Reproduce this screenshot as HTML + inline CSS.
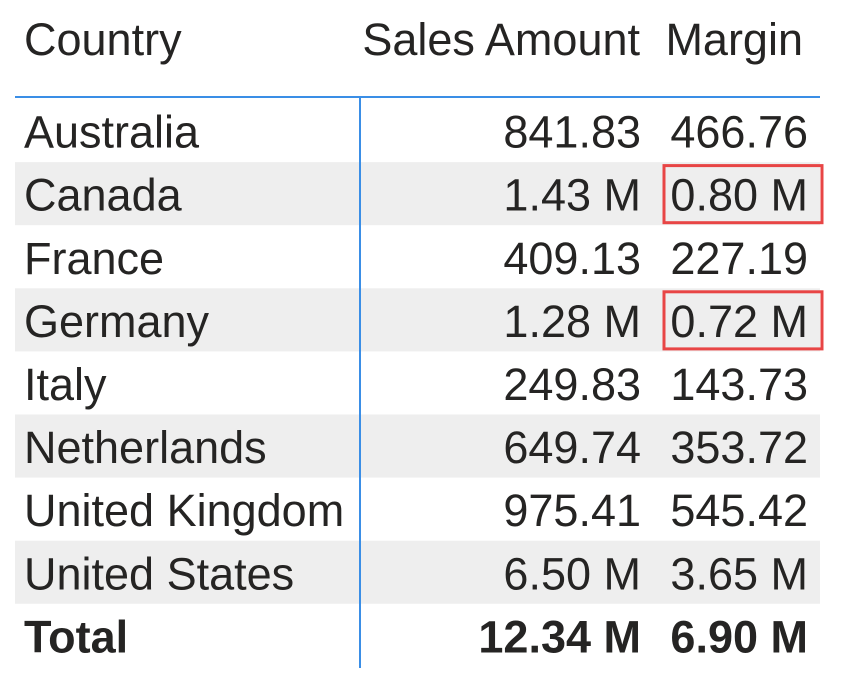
<!DOCTYPE html>
<html><head><meta charset="utf-8"><style>
body{margin:0;background:#fff;}
svg{display:block;font-family:"Liberation Sans",sans-serif;}
</style></head><body>
<svg width="844" height="685" viewBox="0 0 844 685">
<g id="rows"></g>
<line x1="15" y1="97" x2="820" y2="97" stroke="#3a8ee6" stroke-width="2"/>
<line x1="360" y1="97" x2="360" y2="668" stroke="#3a8ee6" stroke-width="2"/>
<text x="24" y="55" font-size="45" fill="#252423">Country</text>
<text x="640" y="55" font-size="45" fill="#252423" text-anchor="end">Sales Amount</text>
<text x="803" y="55" font-size="45" fill="#252423" text-anchor="end">Margin</text>
</svg>
<script>
const countries=["Australia","Canada","France","Germany","Italy","Netherlands","United Kingdom","United States"];
const sales=["841.83","1.43 M","409.13","1.28 M","249.83","649.74","975.41","6.50 M"];
const margins=["466.76","0.80 M","227.19","0.72 M","143.73","353.72","545.42","3.65 M"];
const highlighted=[false,true,false,true,false,false,false,false];
const totalSales="12.34 M";
const totalMargin="6.90 M";
const NS="http://www.w3.org/2000/svg";
const g=document.getElementById('rows');
const top0=99, rh=63.1;
function mk(tag,attrs,parent){const e=document.createElementNS(NS,tag);for(const k in attrs)e.setAttribute(k,attrs[k]);parent.appendChild(e);return e;}
function txt(x,y,s,anchor,bold,parent){const t=mk('text',{x:x,y:y,'font-size':45,fill:'#252423','text-anchor':anchor},parent);if(bold)t.setAttribute('font-weight','bold');t.textContent=s;return t;}
countries.forEach((c,i)=>{
  const y=top0+i*rh;
  const row=mk('g',{},g);
  
  
  if(i%2===1){const b=mk('rect',{x:15,y:y,width:805,height:rh,fill:'#eeeeee'},row);
    
    }
  const by=y+rh/2+17;
  const t1=txt(24,by,c,'start',false,row);
  
  
  const t2=txt(641,by,sales[i],'end',false,row);
  
  
  const t3=txt(808,by,margins[i],'end',false,row);
  
  
  if(highlighted[i]){const r=mk('rect',{x:664,y:y+3.5,width:158,height:rh-6,fill:'none',stroke:'#e84545','stroke-width':3},row);
    
    }
});
const ty=top0+8*rh+rh/2+17;
const tr=mk('g',{},g);


const a=txt(24,ty,'Total','start',true,tr);


const b=txt(641,ty,totalSales,'end',true,tr);


const c=txt(808,ty,totalMargin,'end',true,tr);


</script>
</body></html>
